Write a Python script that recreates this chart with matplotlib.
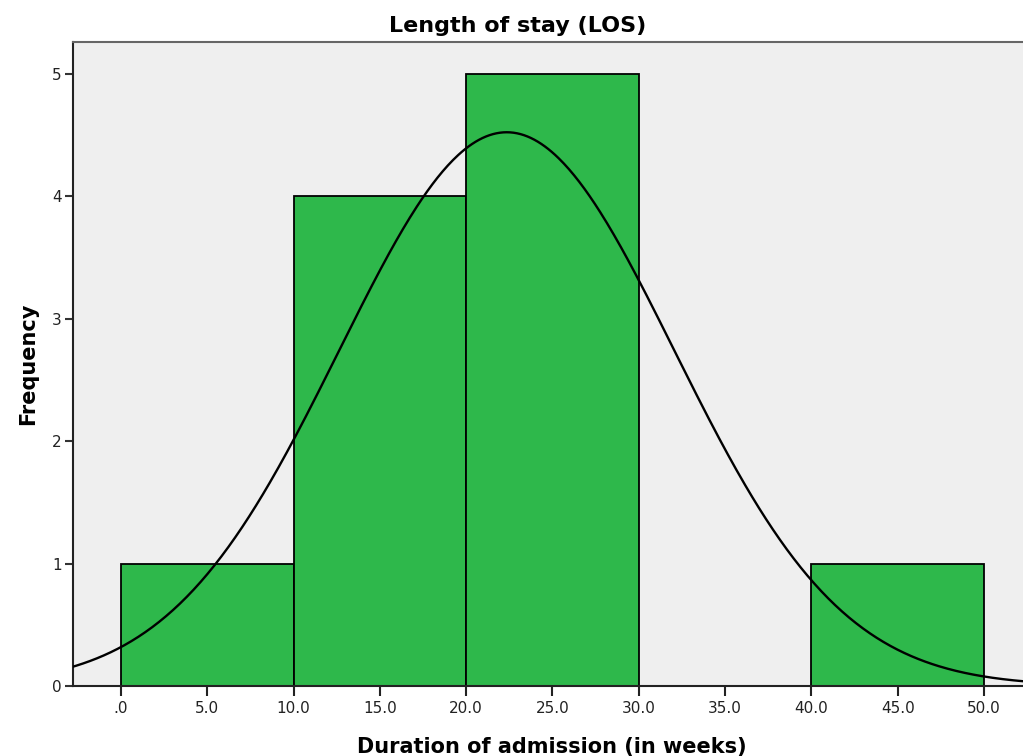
import numpy as np
import matplotlib
matplotlib.use('Agg')
import matplotlib.pyplot as plt
from matplotlib.ticker import FuncFormatter

# histogram of length of stay
bin_edges = [0, 10, 20, 30, 40, 50]
counts = [1, 4, 5, 0, 1]
los_mean = 22.35
los_sd = 9.7

x_ticks = [0, 5, 10, 15, 20, 25, 30, 35, 40, 45, 50]
y_ticks = [0, 1, 2, 3, 4, 5]

plt.rcParams['font.family'] = 'DejaVu Sans'

fig = plt.figure(figsize=(10.23, 7.56), dpi=100)
ax = fig.add_axes([73 / 1023, 1 - 686 / 756, 1 - 73 / 1023 + 0.01, (686 - 42) / 756])
ax.set_facecolor('#efefef')

widths = np.diff(bin_edges)
ax.bar(bin_edges[:-1], counts, width=widths, align='edge',
       color='#2eb84b', edgecolor='black', linewidth=1.3, zorder=2)

# normal curve scaled to frequency
n = sum(counts)
xs = np.linspace(-5, 55, 600)
ys = n * widths[0] * np.exp(-(xs - los_mean) ** 2 / (2 * los_sd ** 2)) / (los_sd * np.sqrt(2 * np.pi))
ax.plot(xs, ys, color='black', linewidth=1.7, zorder=3)

x0 = -2.78
x1 = x0 + (1023 - 73) / 17.26 * (1 + 0.01 * 1023 / (1023 - 73))
ax.set_xlim(x0, x1)
ax.set_ylim(0, (686 - 42) / 122.4)

ax.set_xticks(x_ticks)
ax.set_yticks(y_ticks)
ax.xaxis.set_major_formatter(FuncFormatter(lambda v, p: ('%.1f' % v).lstrip('0') if v == 0 else '%.1f' % v))
ax.tick_params(axis='x', length=7, width=1.5, colors='#222222', labelsize=11, pad=4, labelcolor='#222222')
ax.tick_params(axis='y', length=6, width=1.5, colors='#333333', labelsize=11, pad=2, labelcolor='#222222')

for s in ['left', 'bottom']:
    ax.spines[s].set_color('#222222')
    ax.spines[s].set_linewidth(1.5)
ax.spines['top'].set_color('#666666')
ax.spines['top'].set_linewidth(1.5)
ax.spines['right'].set_visible(False)

ax.set_xlabel('Duration of admission (in weeks)', fontsize=15, fontweight='bold', va='baseline')
ax.xaxis.set_label_coords(0.4989, -0.104)
ax.set_ylabel('Frequency', fontsize=15, fontweight='bold', labelpad=10)
fig.text(517.5 / 1023, 1 - 31.5 / 756, 'Length of stay (LOS)', ha='center', va='baseline',
         fontsize=16, fontweight='bold')

fig.savefig('out.png', dpi=100)
